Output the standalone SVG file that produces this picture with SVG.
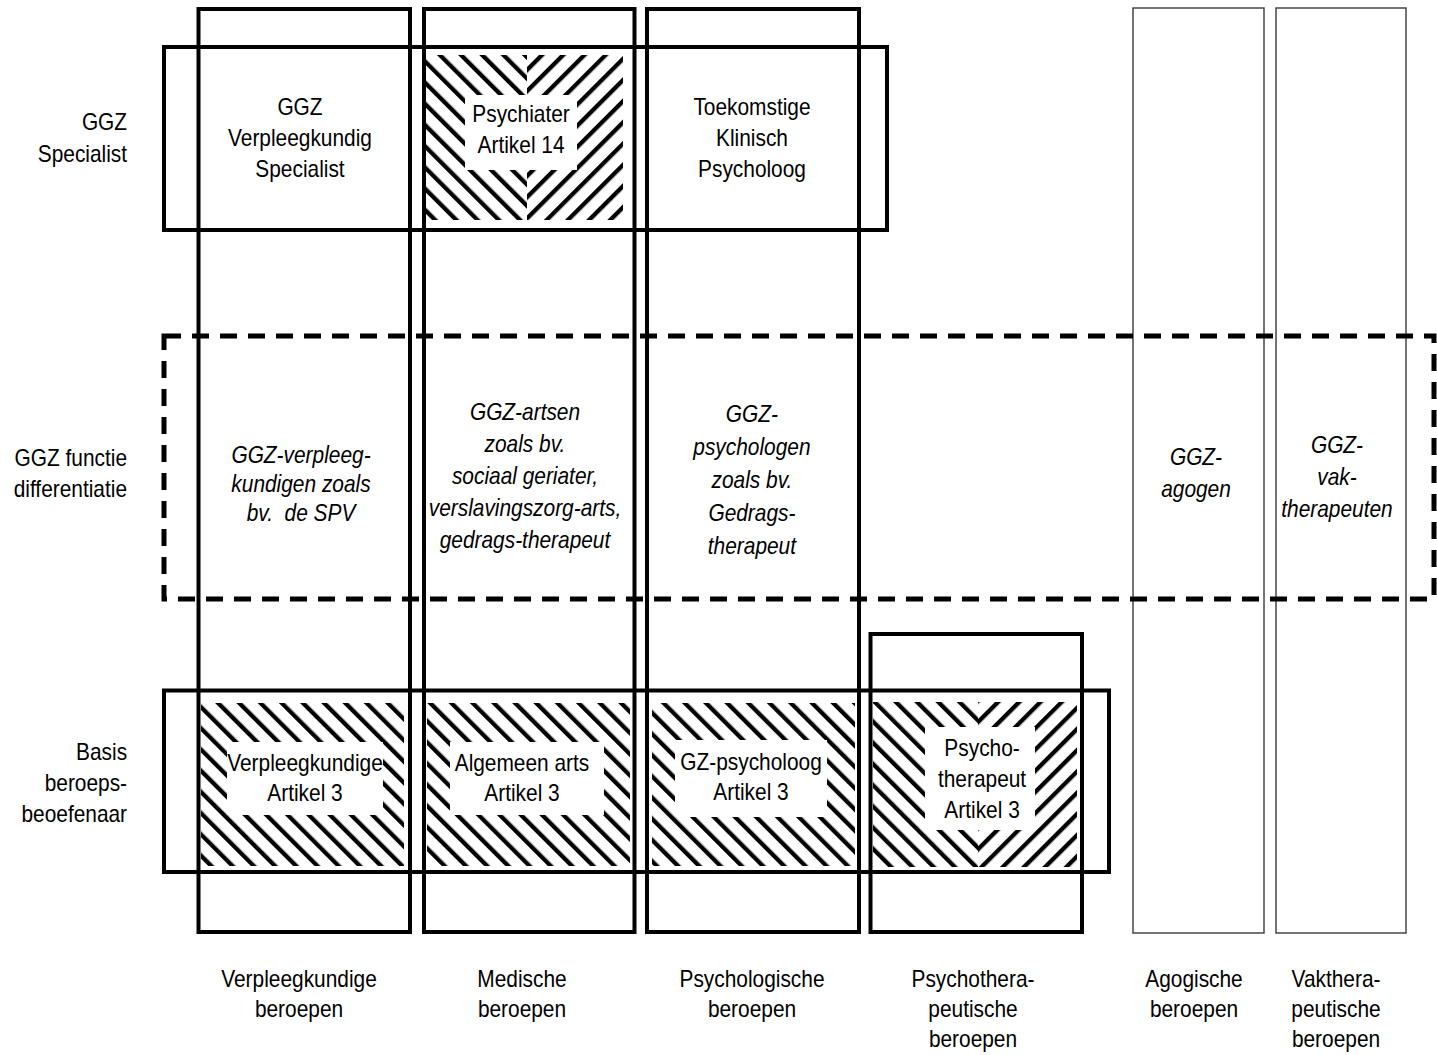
<svg xmlns="http://www.w3.org/2000/svg" width="1437" height="1055" viewBox="0 0 1437 1055">
<style>
.t{font-family:"Liberation Sans",Arial,sans-serif;font-size:24px;fill:#000;text-anchor:middle;transform-box:fill-box;transform-origin:center;transform:scaleX(0.87)}
.i{font-style:italic}
.r{text-anchor:end;transform-origin:right center}
.k{fill:none;stroke:#000;stroke-width:4}
.n{fill:none;stroke:#3a3a3a;stroke-width:1.4}
.d{fill:none;stroke:#000;stroke-width:5;stroke-dasharray:17 11}
.w{fill:#fff}
</style>
<defs>
<pattern id="hb" patternUnits="userSpaceOnUse" width="15" height="15" patternTransform="rotate(-45)"><rect x="0" y="0" width="4.3" height="15" fill="#000"/></pattern>
<pattern id="hf" patternUnits="userSpaceOnUse" width="15" height="15" patternTransform="rotate(45)"><rect x="0" y="0" width="4.3" height="15" fill="#000"/></pattern>
</defs>
<rect width="1437" height="1055" fill="#fff"/>

<g id="hatches">
<rect x="201" y="703" width="203" height="163" fill="url(#hb)"/>
<rect x="427" y="703" width="203" height="163" fill="url(#hb)"/>
<rect x="652" y="703" width="203" height="163" fill="url(#hb)"/>
<rect x="873" y="702" width="105" height="165" fill="url(#hb)"/>
<rect x="978" y="702" width="99" height="165" fill="url(#hf)"/>
<rect x="425" y="55" width="102" height="165" fill="url(#hb)"/>
<rect x="527" y="55" width="96" height="165" fill="url(#hf)"/>
<rect class="w" x="227" y="742" width="156" height="73"/>
<rect class="w" x="450" y="742" width="154" height="73"/>
<rect class="w" x="675" y="740" width="152" height="77"/>
<rect class="w" x="925" y="727" width="110" height="103"/>
<rect class="w" x="465" y="95" width="112" height="75"/>
</g>

<g id="col-verpleegkundig"><rect class="k" x="198.5" y="9" width="211.5" height="923"/></g>
<g id="col-medisch"><rect class="k" x="424" y="9" width="210.5" height="923"/></g>
<g id="col-psychologisch"><rect class="k" x="647" y="9" width="212" height="923"/></g>
<g id="col-psychotherapeutisch"><rect class="k" x="870.5" y="634" width="211.5" height="298"/></g>
<g id="col-agogisch"><rect class="n" x="1133" y="8" width="131" height="925"/></g>
<g id="col-vaktherapeutisch"><rect class="n" x="1276" y="8" width="130" height="925"/></g>
<g id="row-specialist"><rect class="k" x="164" y="47" width="723" height="183"/></g>
<g id="row-functie"><rect class="d" x="164" y="336" width="1270" height="263"/></g>
<g id="row-basis"><rect class="k" x="164" y="690.5" width="945" height="181.5"/></g>

<g id="connectors"></g>

<g id="row-labels">
<text class="t r" x="127" y="130"><tspan x="127">GGZ</tspan><tspan x="127" y="162">Specialist</tspan></text>
<text class="t r" x="127" y="466"><tspan x="127">GGZ functie</tspan><tspan x="127" y="497">differentiatie</tspan></text>
<text class="t r" x="127" y="760"><tspan x="127">Basis</tspan><tspan x="127" y="791">beroeps-</tspan><tspan x="127" y="822">beoefenaar</tspan></text>
</g>

<g id="node-ggz-vs"><text class="t" x="300" y="115"><tspan x="300">GGZ</tspan><tspan x="300" y="146">Verpleegkundig</tspan><tspan x="300" y="177">Specialist</tspan></text></g>
<g id="node-psychiater"><text class="t" x="521" y="122"><tspan x="521">Psychiater</tspan><tspan x="521" y="153">Artikel 14</tspan></text></g>
<g id="node-klinisch"><text class="t" x="752" y="115"><tspan x="752">Toekomstige</tspan><tspan x="752" y="146">Klinisch</tspan><tspan x="752" y="177">Psycholoog</tspan></text></g>

<g id="node-ggz-verpleeg"><text class="t i" x="301" y="463" style="white-space:pre"><tspan x="301">GGZ-verpleeg-</tspan><tspan x="301" y="492">kundigen zoals</tspan><tspan x="301" y="521">bv.  de SPV</tspan></text></g>
<g id="node-ggz-artsen"><text class="t i" x="525" y="420"><tspan x="525">GGZ-artsen</tspan><tspan x="525" y="452">zoals bv.</tspan><tspan x="525" y="484">sociaal geriater,</tspan><tspan x="525" y="516">verslavingszorg-arts,</tspan><tspan x="525" y="548">gedrags-therapeut</tspan></text></g>
<g id="node-ggz-psychologen"><text class="t i" x="752" y="422"><tspan x="752">GGZ-</tspan><tspan x="752" y="455">psychologen</tspan><tspan x="752" y="488">zoals bv.</tspan><tspan x="752" y="521">Gedrags-</tspan><tspan x="752" y="554">therapeut</tspan></text></g>
<g id="node-ggz-agogen"><text class="t i" x="1196" y="465"><tspan x="1196">GGZ-</tspan><tspan x="1196" y="497">agogen</tspan></text></g>
<g id="node-ggz-vak"><text class="t i" x="1337" y="453"><tspan x="1337">GGZ-</tspan><tspan x="1337" y="485">vak-</tspan><tspan x="1337" y="517">therapeuten</tspan></text></g>

<g id="node-verpleegkundige"><text class="t" x="305" y="771"><tspan x="305">Verpleegkundige</tspan><tspan x="305" y="801">Artikel 3</tspan></text></g>
<g id="node-algemeen-arts"><text class="t" x="522" y="771"><tspan x="522">Algemeen arts</tspan><tspan x="522" y="801">Artikel 3</tspan></text></g>
<g id="node-gz-psycholoog"><text class="t" x="751" y="770"><tspan x="751">GZ-psycholoog</tspan><tspan x="751" y="800">Artikel 3</tspan></text></g>
<g id="node-psychotherapeut"><text class="t" x="982" y="756"><tspan x="982">Psycho-</tspan><tspan x="982" y="787">therapeut</tspan><tspan x="982" y="818">Artikel 3</tspan></text></g>

<g id="col-labels">
<text class="t" x="299" y="987"><tspan x="299">Verpleegkundige</tspan><tspan x="299" y="1017">beroepen</tspan></text>
<text class="t" x="522" y="987"><tspan x="522">Medische</tspan><tspan x="522" y="1017">beroepen</tspan></text>
<text class="t" x="752" y="987"><tspan x="752">Psychologische</tspan><tspan x="752" y="1017">beroepen</tspan></text>
<text class="t" x="973" y="987"><tspan x="973">Psychothera-</tspan><tspan x="973" y="1017">peutische</tspan><tspan x="973" y="1047">beroepen</tspan></text>
<text class="t" x="1194" y="987"><tspan x="1194">Agogische</tspan><tspan x="1194" y="1017">beroepen</tspan></text>
<text class="t" x="1336" y="987"><tspan x="1336">Vakthera-</tspan><tspan x="1336" y="1017">peutische</tspan><tspan x="1336" y="1047">beroepen</tspan></text>
</g>
</svg>
